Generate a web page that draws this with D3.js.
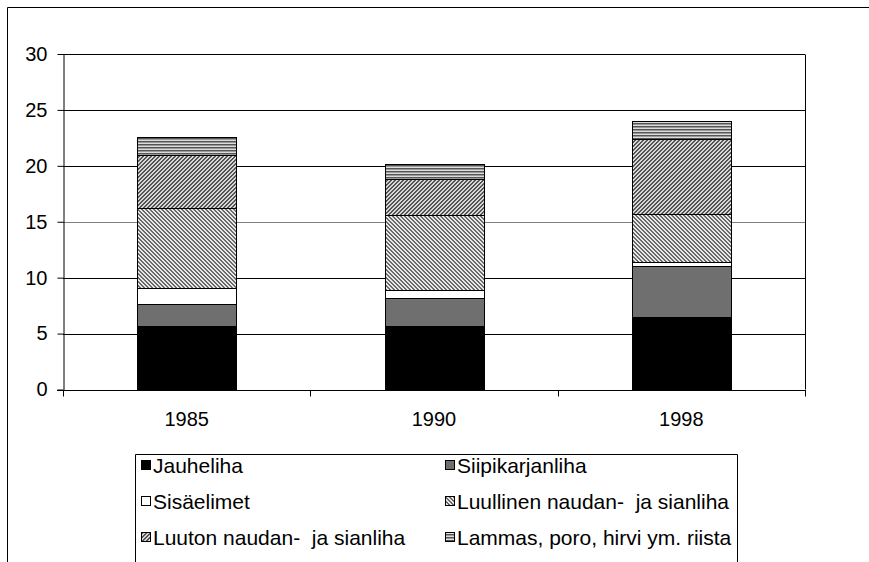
<!DOCTYPE html>
<html>
<head>
<meta charset="utf-8">
<script src="https://cdn.jsdelivr.net/npm/d3@7"></script>
<style>
  body { margin: 0; background: #fff; }
  text { font-family: "Liberation Sans", Arial, sans-serif; font-size: 20px; fill: #000; }
</style>
</head>
<body>
<script>
// Chart data
const years = ["1985", "1990", "1998"];
const seriesNames = [
  "Jauheliha",
  "Siipikarjanliha",
  "Sisäelimet",
  "Luullinen naudan-  ja sianliha",
  "Luuton naudan-  ja sianliha",
  "Lammas, poro, hirvi ym. riista"
];
const jauheliha = [5.7, 5.7, 6.5];
const siipikarjanliha = [1.95, 2.5, 4.5];
const sisaelimet = [1.4, 0.7, 0.4];
const luullinen = [7.2, 6.7, 4.3];
const luuton = [4.7, 3.2, 6.7];
const lammas = [1.6, 1.35, 1.6];
const yTicks = [0, 5, 10, 15, 20, 25, 30];

const width = 869, height = 562;
const margin = { left: 63, right: 805, top: 54, bottom: 389.5 };

const svg = d3.select("body").append("svg")
  .attr("width", width)
  .attr("height", height);

// Patterns for the hatched series
const defs = svg.append("defs");
function pixelPattern(id, size, bg, fg, pixels) {
  const p = defs.append("pattern")
    .attr("id", id)
    .attr("patternUnits", "userSpaceOnUse")
    .attr("width", size).attr("height", size);
  p.append("rect").attr("width", size).attr("height", size).attr("fill", bg);
  pixels.forEach(([px, py]) => {
    p.append("rect").attr("x", px).attr("y", py).attr("width", 1).attr("height", 1)
      .attr("fill", fg).attr("shape-rendering", "crispEdges");
  });
}
// "\" diagonal, 2px wide
pixelPattern("pat-luullinen", 4, "#e8e8e8", "#6a6a6a",
  [[0, 0], [1, 0], [1, 1], [2, 1], [2, 2], [3, 2], [3, 3], [0, 3]]);
// "/" diagonal, 2px wide, a bit darker
pixelPattern("pat-luuton", 4, "#d6d6d6", "#555",
  [[3, 0], [2, 0], [2, 1], [1, 1], [1, 2], [0, 2], [0, 3], [3, 3]]);
const hp = defs.append("pattern")
  .attr("id", "pat-lammas")
  .attr("patternUnits", "userSpaceOnUse")
  .attr("width", 4).attr("height", 3);
hp.append("rect").attr("width", 4).attr("height", 3).attr("fill", "#dcdcdc");
hp.append("rect").attr("y", 0).attr("width", 4).attr("height", 1).attr("fill", "#555");
hp.append("rect").attr("y", 1).attr("width", 4).attr("height", 1).attr("fill", "#999");

const fills = ["#000", "#6f6f6f", "#fff", "url(#pat-luullinen)", "url(#pat-luuton)", "url(#pat-lammas)"];

// Outer frame (only top and left edges visible in the picture)
svg.append("path")
  .attr("d", `M7.5,${height} V7.5 H${width}`)
  .attr("fill", "none").attr("stroke", "#000").attr("stroke-width", 1);

const x = d3.scaleBand().domain(years).range([margin.left, margin.right]);
const y = d3.scaleLinear().domain([0, 30]).range([margin.bottom, margin.top]);

// Gridlines
svg.append("g").selectAll("line")
  .data(yTicks.filter(d => d > 0))
  .join("line")
  .attr("x1", margin.left).attr("x2", margin.right)
  .attr("y1", d => Math.round(y(d)) + 0.5).attr("y2", d => Math.round(y(d)) + 0.5)
  .attr("stroke", d => d === 15 ? "#808080" : "#000");

// Plot area right border
svg.append("line")
  .attr("x1", margin.right + 0.5).attr("x2", margin.right + 0.5)
  .attr("y1", Math.round(margin.top) + 0.5).attr("y2", margin.bottom)
  .attr("stroke", "#000");

// Stacked bars
const rows = years.map((yr, i) => ({
  year: yr,
  [seriesNames[0]]: jauheliha[i],
  [seriesNames[1]]: siipikarjanliha[i],
  [seriesNames[2]]: sisaelimet[i],
  [seriesNames[3]]: luullinen[i],
  [seriesNames[4]]: luuton[i],
  [seriesNames[5]]: lammas[i]
}));
const stacked = d3.stack().keys(seriesNames)(rows);
const barW = x.bandwidth() / 2.5;

svg.append("g").selectAll("g")
  .data(stacked)
  .join("g")
  .attr("fill", (d, i) => fills[i])
  .selectAll("rect")
  .data(d => d)
  .join("rect")
  .attr("x", d => Math.round(x(d.data.year) + (x.bandwidth() - barW) / 2) + 0.5)
  .attr("width", Math.round(barW))
  .attr("y", d => Math.round(y(d[1])) + 0.5)
  .attr("height", d => Math.round(y(d[0])) - Math.round(y(d[1])))
  .attr("stroke", "#000")
  .attr("stroke-width", 1);

// Y axis
const yAxis = svg.append("g")
  .attr("transform", `translate(${margin.left + 0.5},0)`)
  .call(d3.axisLeft(y).tickValues(yTicks).tickSize(6).tickPadding(10).tickSizeOuter(0));
yAxis.select(".domain").attr("stroke", "#000");
yAxis.selectAll(".tick line").attr("stroke", "#000");
yAxis.selectAll("text").style("font-size", "20px").attr("fill", "#000");

// X axis: baseline + boundary ticks
const xg = svg.append("g").attr("transform", `translate(0,${Math.round(margin.bottom) + 0.5})`);
xg.append("line")
  .attr("x1", margin.left - 6).attr("x2", margin.right + 1)
  .attr("stroke", "#000");
const bounds = years.map(d => x(d)).concat([margin.right]);
xg.selectAll(".bt")
  .data(bounds)
  .join("line")
  .attr("class", "bt")
  .attr("x1", d => Math.round(d) + 0.5).attr("x2", d => Math.round(d) + 0.5)
  .attr("y1", 0).attr("y2", 6)
  .attr("stroke", "#000");
xg.selectAll("text")
  .data(years)
  .join("text")
  .attr("x", d => x(d) + x.bandwidth() / 2)
  .attr("y", 35)
  .attr("text-anchor", "middle")
  .text(d => d);

// Legend
const legend = svg.append("g");
legend.append("path")
  .attr("d", `M135.5,${height} V454.5 H737.5 V${height}`)
  .attr("fill", "none").attr("stroke", "#000");
const legX = [141, 445];
const legY = [473, 509, 545];
seriesNames.forEach((name, i) => {
  const lx = legX[i % 2], ly = legY[Math.floor(i / 2)];
  legend.append("rect")
    .attr("x", lx + 0.5).attr("y", ly - 12.5)
    .attr("width", 9).attr("height", 9)
    .attr("fill", fills[i]).attr("stroke", "#000");
  legend.append("text")
    .attr("x", lx + 12).attr("y", ly)
    .attr("xml:space", "preserve")
    .style("white-space", "pre")
    .style("font-size", "21px")
    .text(name);
});
</script>
</body>
</html>
